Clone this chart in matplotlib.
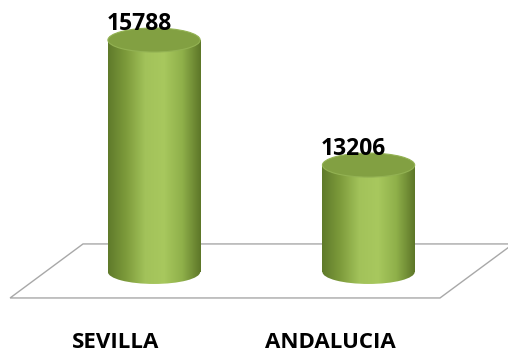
import matplotlib.pyplot as plt
import numpy as np
from matplotlib.patches import Ellipse, Rectangle, Polygon
from matplotlib.colors import LinearSegmentedColormap

categories = ['SEVILLA', 'ANDALUCIA']
values = [15788, 13206]

base = 11000          # value where the cylinders stand
k = 125 / 2582        # pixels per unit
width = 0.43
cap = 12 / k          # half height of the ellipses, in data units

fig = plt.figure(figsize=(5.08, 3.54), dpi=100)
ax = fig.add_axes([0, 0, 1, 1])
ax.axis('off')

# floor
floor = Polygon([(-0.671, base - 26 / k), (1.333, base - 26 / k),
                 (1.674, base + 28 / k), (-0.331, base + 28 / k)],
                closed=True, facecolor='white', edgecolor='#a8a8a8', lw=1.0, zorder=1)
ax.add_patch(floor)

body_cmap = LinearSegmentedColormap.from_list(
    'body', ['#5f7a2a', '#7e9c3c', '#a2c25a', '#a8c85e', '#8fb04a', '#5d7628'])

grad = np.linspace(0, 1, 256).reshape(1, -1)
x = np.arange(len(categories))
for xi, v in zip(x, values):
    l, r = xi - width / 2, xi + width / 2
    rect = Rectangle((l, base), width, v - base, transform=ax.transData)
    bot = Ellipse((xi, base), width, 2 * cap, transform=ax.transData)
    for clip in (rect, bot):
        im = ax.imshow(grad, cmap=body_cmap, aspect='auto',
                       extent=(l, r, base - cap, v), zorder=3)
        im.set_clip_path(clip)
    top = Ellipse((xi, v), width, 2 * cap, facecolor='#82a042',
                  edgecolor='#93b253', lw=0.8, zorder=4)
    ax.add_patch(top)
    ax.text(xi - 0.07, v + cap * 0.35, f'{v}', ha='center', va='bottom',
            fontsize=16.5, fontweight='bold', family='Open Sans', color='black', zorder=5)
    ax.text(xi - 0.177, base - 71 / k, categories[xi], ha='center', va='center',
            fontsize=16, fontweight='bold', family='Open Sans', color='black')

ax.set_xlim(-0.718, 1.650)
ax.set_ylim(base - 82 / k, 15788 + 40 / k)
fig.savefig('out.png', dpi=100)
